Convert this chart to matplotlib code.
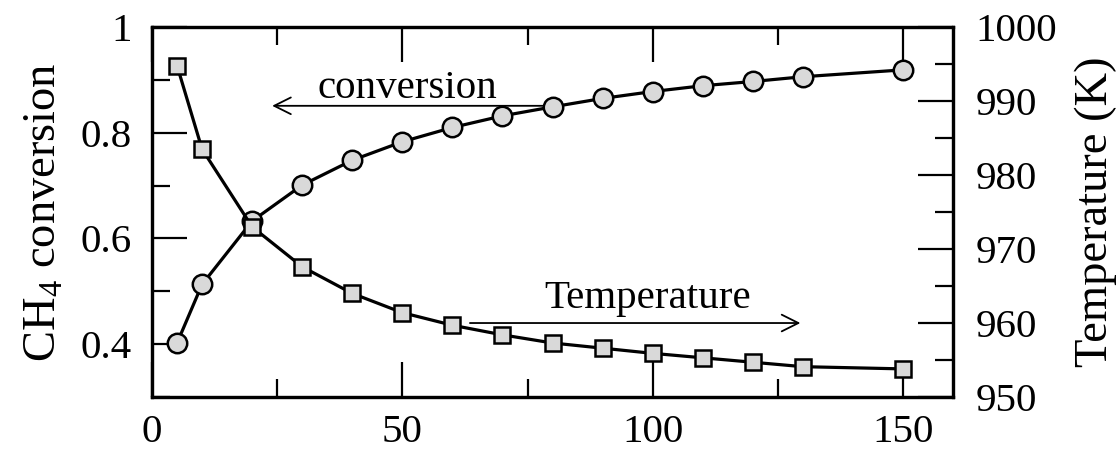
import matplotlib
matplotlib.use("Agg")
import matplotlib.pyplot as plt
from matplotlib.ticker import MultipleLocator, FuncFormatter

x = [5, 10, 20, 30, 40, 50, 60, 70, 80, 90, 100, 110, 120, 130, 150]
conversion = [0.402, 0.513, 0.633, 0.701, 0.748, 0.783, 0.810, 0.832, 0.849,
              0.865, 0.878, 0.889, 0.897, 0.906, 0.919]
temperature = [994.8, 983.5, 973.0, 967.6, 964.0, 961.4, 959.7, 958.4, 957.3,
               956.6, 955.9, 955.3, 954.7, 954.1, 953.8]

plt.rcParams['font.family'] = ['Liberation Serif', 'DejaVu Serif']
plt.rcParams['mathtext.fontset'] = 'custom'
plt.rcParams['mathtext.rm'] = 'Liberation Serif'
FS = 29.5
FSL = 33.5

fig = plt.figure(figsize=(11.2, 4.51), dpi=100)
ax = fig.add_axes([0.1357, 0.1197, 0.851 - 0.1357, 0.940 - 0.1197])
ax2 = ax.twinx()

lw = 2.3
fill = '#d9d9d9'
ax.plot(x, conversion, color='black', lw=lw, marker='o', ms=14,
        mfc=fill, mec='black', mew=1.8, zorder=3)
ax2.plot(x, temperature, color='black', lw=lw, marker='s', ms=11.5,
         mfc=fill, mec='black', mew=1.8, zorder=3)

ax.set_xlim(0, 160)
ax.set_ylim(0.3, 1.0)
ax2.set_ylim(950, 1000)

ax.xaxis.set_major_locator(MultipleLocator(50))
ax.xaxis.set_minor_locator(MultipleLocator(25))
ax.yaxis.set_major_locator(MultipleLocator(0.2))
ax.yaxis.set_minor_locator(MultipleLocator(0.1))
ax2.yaxis.set_major_locator(MultipleLocator(10))
ax2.yaxis.set_minor_locator(MultipleLocator(5))

def fmt(v, p):
    s = f"{v:.1f}"
    return "1" if abs(v - 1) < 1e-9 else s
ax.yaxis.set_major_formatter(FuncFormatter(fmt))

for a in (ax, ax2):
    for s in a.spines.values():
        s.set_linewidth(2.3)

ax.tick_params(axis='x', which='both', direction='in', top=True, bottom=True,
               labelsize=FS, pad=12, width=1.6)
ax.tick_params(axis='y', which='both', direction='in', left=True, right=False,
               labelsize=FS, pad=14.5, width=1.6)
ax2.tick_params(axis='y', which='both', direction='in', left=False, right=True,
                labelsize=FS, pad=16, width=1.6)
ax.tick_params(which='major', length=25)
ax.tick_params(which='minor', length=13)
ax2.tick_params(which='major', length=25)
ax2.tick_params(which='minor', length=13)

ax.set_ylabel(r'CH$_4$ conversion', fontsize=FSL)
ax2.set_ylabel('Temperature (K)', fontsize=FSL)
ax.yaxis.set_label_coords(-0.108, 0.5)
ax2.yaxis.set_label_coords(1.152, 0.5)

# annotations
ax.annotate('', xy=(24, 0.851), xytext=(78, 0.851),
            arrowprops=dict(arrowstyle='->', color='black', lw=1.3,
                            mutation_scale=30, shrinkA=0, shrinkB=0), zorder=1)
ax.text(51, 0.883, 'conversion', fontsize=FS, ha='center', va='center', zorder=1)
ax.annotate('', xy=(129.5, 0.44), xytext=(63.5, 0.44),
            arrowprops=dict(arrowstyle='->', color='black', lw=1.3,
                            mutation_scale=30, shrinkA=0, shrinkB=0), zorder=1)
ax.text(99, 0.487, 'Temperature', fontsize=FS, ha='center', va='center', zorder=1)

fig.savefig('out.png', dpi=100)
